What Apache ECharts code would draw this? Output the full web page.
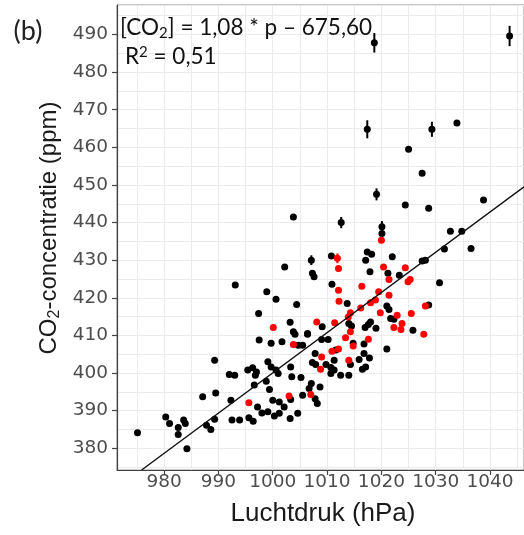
<!DOCTYPE html>
<html><head><meta charset="utf-8">
<script src="https://cdn.jsdelivr.net/npm/echarts@6/dist/echarts.min.js"></script>
<style>html,body{margin:0;padding:0;background:#fff}#c{width:524px;height:535px}</style>
</head><body><div id="c"></div>
<script>
// axis ranges
const xMin = 971.33, xMax = 1046.25;
const yMin = 374.23, yMax = 497.84;

// black observations (pressure hPa, CO2 ppm)
const blackP = [1018.7,1043.6,1017.4,1029.3,1033.9,1025.0,1027.5,1019.1,1024.4,1028.7,1038.8,1012.6,1020.1,1020.1,1032.7,1034.8,1031.6,1036.5,1007.1,1010.8,1017.4,1018.2,1017.1,1022.0,1027.5,1028.1,1017.9,1021.2,1007.3,1007.6,1003.8,1002.2,993.1,998.9,1000.6,1004.4,997.4,1003.2,1003.8,1004.1,1006.4,997.5,999.7,1001.7,1004.7,1005.5,1007.8,989.3,992.0,993.0,995.4,996.3,999.1,999.7,996.8,997.0,1000.6,1001.0,1003.3,1003.5,1005.2,996.6,998.8,999.4,1000.0,1001.2,997.2,998.0,999.1,1000.3,1001.2,1002.1,1003.3,1004.6,1003.2,987.1,989.5,992.5,993.9,995.6,996.4,992.3,987.8,988.6,989.3,980.3,981.0,982.6,982.6,983.6,983.9,984.2,975.1,1010.9,1023.3,1030.7,1013.7,1021.0,1021.4,1028.7,1021.7,1022.3,1009.1,1014.0,1014.5,1017.0,1017.6,1018.0,1019.0,1025.8,1006.4,1009.0,1010.2,1014.8,1016.8,1011.6,1021.0,1011.3,1015.9,1016.8,1017.8,1014.3,1007.9,1009.8,1010.7,1011.3,1010.7,1012.5,1014.0,1016.5,1017.1,1007.1,1006.7,1008.7,1005.5,1007.8,1008.2,1007.3];
const blackC = [487.8,489.6,464.8,464.8,466.5,459.5,453.1,447.5,444.7,443.8,446.0,440.0,438.9,437.1,437.7,437.7,433.0,433.1,430.0,431.1,432.2,431.6,430.0,430.9,429.8,430.0,426.9,426.5,426.5,425.6,441.5,428.2,423.4,421.6,419.6,418.2,415.8,413.5,411.0,410.3,410.3,408.8,407.9,408.3,407.4,407.4,405.2,403.4,399.6,399.4,400.8,401.4,403.0,401.6,399.4,400.3,400.8,399.9,401.6,399.0,398.8,396.8,397.8,395.6,392.8,392.3,391.0,389.4,389.7,388.6,389.3,391.0,393.0,389.3,387.9,393.7,394.7,387.5,387.5,388.1,387.2,392.8,386.1,385.0,387.7,388.3,386.6,385.5,383.7,387.5,386.6,379.9,384.1,423.6,426.0,424.0,418.5,417.8,416.9,418.1,414.5,414.3,412.3,413.2,412.5,412.1,412.9,413.6,411.9,411.4,410.5,408.9,408.9,407.9,407.7,406.1,406.4,403.4,403.6,405.2,404.0,402.3,402.3,402.3,401.5,400.8,399.9,399.4,399.4,401.0,401.6,397.2,395.9,396.3,394.1,393.2,391.9,402.8];

// red observations
const redP = [1011.9,1012.1,1020.0,1020.4,1024.4,1000.1,1008.1,1003.8,995.6,1003.0,1021.4,1024.9,1025.3,1012.1,1016.4,1019.5,1021.4,1012.2,1018.9,1018.0,1016.2,1014.3,1013.9,1019.8,1022.9,1025.5,1028.1,1011.4,1014.3,1022.3,1023.6,1023.8,1027.8,1013.4,1017.6,1014.8,1010.9,1012.1,1009.0,1014.0,1008.8,1007.0];
const redC = [430.5,427.8,435.3,428.2,428.0,412.1,413.6,407.6,392.1,393.9,424.9,424.3,424.9,422.0,423.1,421.6,420.7,419.1,419.4,418.7,417.3,416.0,414.9,416.0,415.4,415.8,417.8,413.4,411.0,412.1,411.6,413.2,410.3,409.4,409.0,407.2,405.8,406.4,404.3,403.4,401.0,394.3];

// error bars (black points)
const errP    = [1018.7,1043.6,1017.4,1029.3,1019.1,1012.6,1020.1,1007.1];
const errLow  = [485.2,486.9,462.4,462.8,445.9,438.5,437.4,428.7];
const errHigh = [490.4,492.3,467.2,466.8,449.1,441.5,440.4,431.3];
// error bars (red points)
const redErrP = [1011.9], redErrLow = [429.2], redErrHigh = [431.8];

// regression line end points as drawn
const lineP = [975.86, 1046.25];
const lineC = [374.23, 449.5];

const zip = (a, b) => a.map((v, i) => [v, b[i]]);
const errData = (p, lo, hi) => p.map((v, i) => [v, lo[i], hi[i]]);

function errRender(color) {
  return function (params, api) {
    const a = api.coord([api.value(0), api.value(1)]);
    const b = api.coord([api.value(0), api.value(2)]);
    return { type: 'line', shape: { x1: a[0], y1: a[1], x2: b[0], y2: b[1] },
             style: { stroke: color, lineWidth: 2 } };
  };
}

const tickFont = 'DejaVu Sans';
const plain = v => String(Math.round(v));
const chart = echarts.init(document.getElementById('c'));
chart.setOption({
  animation: false,
  backgroundColor: '#ffffff',
  grid: { left: 117, top: 5, right: -2, bottom: 65, show: true, borderColor: '#8a8a8a', borderWidth: 1, backgroundColor: '#fff' },
  xAxis: [
    { type: 'value', min: xMin, max: xMax, splitNumber: 15,
      axisLine: { show: true, onZero: false, lineStyle: { color: '#444', width: 1.2 } },
      axisTick: { show: false }, axisLabel: { show: false },
      splitLine: { show: true, lineStyle: { color: '#ebebeb', width: 1 } } },
    { type: 'value', min: xMin, max: xMax, splitNumber: 7, position: 'bottom',
      axisLine: { show: false, onZero: false },
      axisTick: { show: true, length: 5, lineStyle: { color: '#444', width: 1.2 } },
      axisLabel: { show: true, margin: 3, showMinLabel: false, showMaxLabel: false, formatter: plain,
                   color: '#4d4d4d', fontFamily: tickFont, fontSize: 18.5 },
      splitLine: { show: false } }
  ],
  yAxis: [
    { type: 'value', min: yMin, max: yMax, splitNumber: 25,
      axisLine: { show: true, onZero: false, lineStyle: { color: '#444', width: 1.2 } },
      axisTick: { show: false }, axisLabel: { show: false },
      splitLine: { show: true, lineStyle: { color: '#ebebeb', width: 1 } } },
    { type: 'value', min: yMin, max: yMax, splitNumber: 12, position: 'left',
      axisLine: { show: false, onZero: false },
      axisTick: { show: true, length: 5, lineStyle: { color: '#444', width: 1.2 } },
      axisLabel: { show: true, margin: 9, showMinLabel: false, showMaxLabel: false, formatter: plain,
                   color: '#4d4d4d', fontFamily: tickFont, fontSize: 18.5 },
      splitLine: { show: false } }
  ],
  series: [
    { type: 'custom', xAxisIndex: 0, yAxisIndex: 0, renderItem: errRender('#000'),
      data: errData(errP, errLow, errHigh), z: 2 },
    { type: 'scatter', xAxisIndex: 0, yAxisIndex: 0, data: zip(blackP, blackC),
      symbolSize: 7, itemStyle: { color: '#000', opacity: 1 }, z: 3 },
    { type: 'custom', xAxisIndex: 0, yAxisIndex: 0, renderItem: errRender('#ff0000'),
      data: errData(redErrP, redErrLow, redErrHigh), z: 4 },
    { type: 'scatter', xAxisIndex: 0, yAxisIndex: 0, data: zip(redP, redC),
      symbolSize: 7, itemStyle: { color: '#ff0000', opacity: 1 }, z: 5 },
    { type: 'line', xAxisIndex: 0, yAxisIndex: 0, data: zip(lineP, lineC), showSymbol: false, symbol: 'none',
      lineStyle: { color: '#111', width: 1.4 }, z: 6, silent: true }
  ],
  graphic: [
    { type: 'text', x: 28, y: 31, style: { text: '(b)', font: '27px Lato', fill: '#222', textAlign: 'center', textVerticalAlign: 'middle' } },
    { type: 'text', x: 120, y: 28, z: 10, style: {
        text: '[CO{sub|2}] = 1,08 * p – 675,60', font: '22.5px Lato', fill: '#111',
        textVerticalAlign: 'middle', lineHeight: 25,
        rich: { sub: { fontSize: 15, fontFamily: 'Lato', verticalAlign: 'bottom', lineHeight: 15 } } } },
    { type: 'text', x: 125, y: 57, z: 10, style: {
        text: 'R{sup|2} = 0,51', font: '22.5px Lato', fill: '#111',
        textVerticalAlign: 'middle', lineHeight: 25,
        rich: { sup: { fontSize: 15, fontFamily: 'Lato', verticalAlign: 'top', lineHeight: 15 } } } },
    { type: 'text', x: 323, y: 514, style: { text: 'Luchtdruk (hPa)', font: '26px "Liberation Sans"', fill: '#1a1a1a', textAlign: 'center', textVerticalAlign: 'middle' } },
    { type: 'text', x: 49, y: 228, rotation: Math.PI / 2, style: {
        text: 'CO{sub|2}-concentratie (ppm)', font: '24px "Liberation Sans"', fill: '#1a1a1a',
        textAlign: 'center', textVerticalAlign: 'middle', lineHeight: 28,
        rich: { sub: { fontSize: 16, fontFamily: 'Liberation Sans', verticalAlign: 'bottom', lineHeight: 16 } } } }
  ]
});
</script>
</body></html>
